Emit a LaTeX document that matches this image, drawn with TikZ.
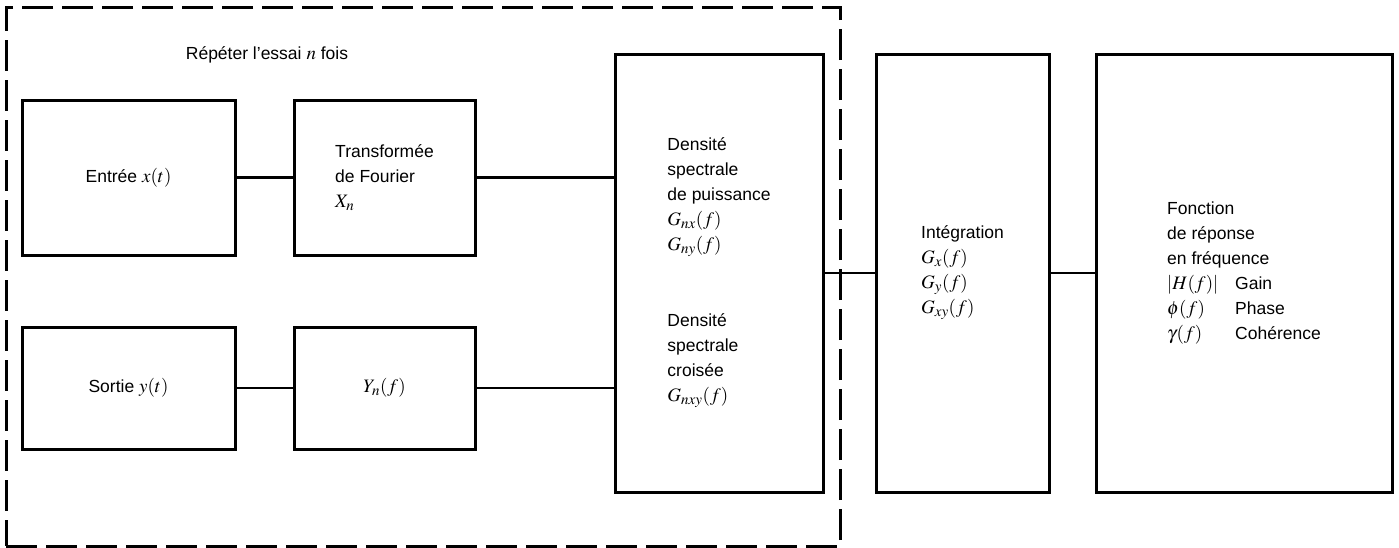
\documentclass[tikz,border=0pt]{standalone}
\usepackage{mathptmx}
\usepackage{fontspec}
\setmainfont{Liberation Sans}
\DeclareMathSizes{17.5}{19}{15}{12}
\usetikzlibrary{positioning}
\newcommand{\fcol}[1]{\makebox[68pt][l]{#1}}
\tikzset{
    % Box styles with sharp corners
    block/.style={
        rectangle,
        draw=black,
        line width=3pt,
        align=left,
        inner sep=0pt,
        font=\fontsize{17.5}{25}\selectfont
    },
    input block/.style={
        block,
        minimum width=213,
        minimum height=155
    },
    fourier block/.style={
        block,
        minimum width=181,
        minimum height=155
    },
    tall block/.style={
        block,
        minimum height=438
    },
    trial frame/.style={
        rectangle,
        draw=black,
        line width=3pt,
        dash pattern=on 31pt off 9pt
    },
    link/.style={
        -,
        line width=2.4pt,
        black
    }
}
\begin{document}
\begin{tikzpicture}[x=1pt, y=-1pt]
        \useasboundingbox (0,0) rectangle (1399,547);

        % Repeated trial frame
        \node[trial frame, minimum width=834, minimum height=539] (trial) at (423, 276.5) {};
        \node[font=\fontsize{17.5}{25}\selectfont] (triallabel) at (267, 55) {Répéter l'essai $n$ fois};

        % Input and output rows
        \node[input block] (entree) at (128.5, 177.5) {Entrée $x(t)$};
        \node[fourier block] (tf) at (384.5, 177.5) {
            Transformée\\
            de Fourier\\
            $X_n$
        };
        \node[input block, minimum height=122] (sortie) at (128.5, 388) {Sortie $y(t)$};
        \node[fourier block, minimum height=122] (yn) at (384.5, 388) {$Y_n(f)$};

        % Spectral densities
        \node[tall block, minimum width=208] (dens) at (719, 273) {
            Densité\\
            spectrale\\
            de puissance\\
            $G_{nx}(f)$\\
            $G_{ny}(f)$\\[51pt]
            Densité\\
            spectrale\\
            croisée\\
            $G_{nxy}(f)$
        };

        \node[tall block, minimum width=173] (integ) at (962.5, 273) {
            Intégration\\
            $G_x(f)$\\
            $G_y(f)$\\
            $G_{xy}(f)$
        };

        \node[tall block, minimum width=296] (fonction) at (1244, 273) {
            Fonction\\
            de réponse\\
            en fréquence\\
            \fcol{$|H(f)|$}Gain\\
            \fcol{$\phi(f)$}Phase\\
            \fcol{$\gamma(f)$}Cohérence
        };

        % Connections
        \draw[link] (entree) -- (tf);
        \draw[link] (sortie) -- (yn);
        \draw[link] (tf.east) -- (tf.east -| dens.west);
        \draw[link] (yn.east) -- (yn.east -| dens.west);
        \draw[link] (dens) -- (integ);
        \draw[link] (integ) -- (fonction);
    \end{tikzpicture}
\end{document}
